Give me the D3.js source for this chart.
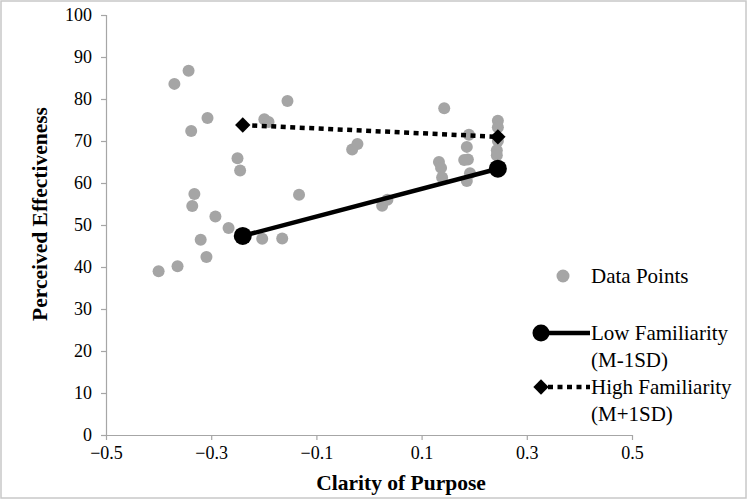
<!DOCTYPE html>
<html>
<head>
<meta charset="utf-8">
<script src="https://cdn.jsdelivr.net/npm/d3@7/dist/d3.min.js"></script>
<style>
  html, body { margin: 0; padding: 0; background: #fff; }
  svg { display: block; }
</style>
</head>
<body>
<svg id="chart" width="750" height="502"></svg>
<script>
// ---- Data ----
const pointX = [-0.343, -0.370, -0.307, -0.338, -0.155, -0.199, -0.191, -0.250, -0.245,
  -0.332, -0.336, -0.292, -0.267, -0.320, -0.309, -0.364, -0.400, -0.203, -0.165, -0.133,
  -0.032, -0.022, 0.025, 0.035, 0.143, 0.133, 0.137, 0.139,
  0.190, 0.186, 0.188, 0.192, 0.186, 0.181,
  0.245, 0.245, 0.245, 0.243, 0.243, 0.245];
const pointY = [86.7, 83.6, 75.5, 72.4, 79.5, 75.2, 74.5, 65.9, 63.0,
  57.4, 54.5, 52.0, 49.3, 46.5, 42.4, 40.2, 39.0, 46.7, 46.8, 57.2,
  68.0, 69.3, 54.6, 56.0, 77.8, 65.0, 63.6, 61.3,
  71.5, 68.6, 65.6, 62.3, 60.5, 65.5,
  74.8, 73.3, 70.0, 67.8, 66.6, 64.0];
const lowX = [-0.24, 0.245];
const lowY = [47.4, 63.4];
const highX = [-0.24, 0.245];
const highY = [73.8, 71.0];
const xTicks = [-0.5, -0.3, -0.1, 0.1, 0.3, 0.5];
const yTicks = [0, 10, 20, 30, 40, 50, 60, 70, 80, 90, 100];
const legendLabels = [["Data Points"], ["Low Familiarity", "(M-1SD)"], ["High Familiarity", "(M+1SD)"]];

// ---- Layout ----
const FONT = "'Liberation Serif', 'Times New Roman', Times, serif";
const svg = d3.select("#chart");
const pL = 106, pR = 632, pT = 15, pB = 435;
const x = d3.scaleLinear().domain([-0.5, 0.5]).range([pL, pR]);
const y = d3.scaleLinear().domain([0, 100]).range([pB, pT]);
const axisColor = "#a6a6a6";
const dotColor = "#a5a5a5";

// outer border
svg.append("rect").attr("x", 1).attr("y", 1).attr("width", 745).attr("height", 497)
  .attr("fill", "#fff").attr("stroke", "#c8c8c8").attr("stroke-width", 1.5);

// axes
const xAxis = svg.append("g").attr("transform", `translate(0,${pB})`)
  .call(d3.axisBottom(x).tickValues(xTicks).tickSize(5).tickPadding(4).tickFormat(d3.format(".1f")));
const yAxis = svg.append("g").attr("transform", `translate(${pL},0)`)
  .call(d3.axisLeft(y).tickValues(yTicks).tickSize(5).tickPadding(9));
[xAxis, yAxis].forEach(g => {
  g.attr("font-family", FONT).attr("font-size", 18);
  g.selectAll("path, line").attr("stroke", axisColor).attr("stroke-width", 1.2);
  g.selectAll("text").attr("fill", "#000");
});
xAxis.selectAll("text").attr("dy", "0.85em");
xAxis.select(".domain").attr("d", `M${pL},0.5H${pR}`);
yAxis.select(".domain").attr("d", `M0.5,${pT}V${pB}`);
yAxis.selectAll(".tick text").attr("dy", "0.33em");

// axis titles
svg.append("text").attr("x", 401).attr("y", 490).attr("text-anchor", "middle")
  .attr("font-family", FONT).attr("font-size", 21.5).attr("font-weight", "bold").text("Clarity of Purpose");
svg.append("text").attr("transform", `translate(47,214) rotate(-90)`)
  .attr("text-anchor", "middle")
  .attr("font-family", FONT).attr("font-size", 21.5).attr("font-weight", "bold").text("Perceived Effectiveness");

// data points
svg.append("g").selectAll("circle").data(pointX.map((v, i) => [v, pointY[i]])).join("circle")
  .attr("cx", d => x(d[0])).attr("cy", d => y(d[1])).attr("r", 6).attr("fill", dotColor);

// lines
const line = d3.line().x(d => x(d[0])).y(d => y(d[1]));
const lowData = lowX.map((v, i) => [v, lowY[i]]);
const highData = highX.map((v, i) => [v, highY[i]]);
svg.append("path").datum(lowData).attr("d", line).attr("stroke", "#000").attr("stroke-width", 4.5).attr("fill", "none");
svg.append("path").datum(highData).attr("d", line).attr("stroke", "#000").attr("stroke-width", 4.5)
  .attr("stroke-dasharray", "5,4.5").attr("fill", "none");
svg.append("g").selectAll("circle").data(lowData).join("circle")
  .attr("cx", d => x(d[0])).attr("cy", d => y(d[1])).attr("r", 9).attr("fill", "#000");
const diamond = d3.symbol().type(d3.symbolDiamond2).size(150);
svg.append("g").selectAll("path").data(highData).join("path")
  .attr("transform", d => `translate(${x(d[0])},${y(d[1])})`).attr("d", diamond).attr("fill", "#000");

// legend
const lg = svg.append("g");
const lgTextX = 591;
const rows = [276, 333, 387];
lg.append("circle").attr("cx", 563).attr("cy", rows[0]).attr("r", 6.5).attr("fill", dotColor);
lg.append("line").attr("x1", 541).attr("x2", 590).attr("y1", rows[1]).attr("y2", rows[1])
  .attr("stroke", "#000").attr("stroke-width", 4.5);
lg.append("circle").attr("cx", 541).attr("cy", rows[1]).attr("r", 8.5).attr("fill", "#000");
lg.append("line").attr("x1", 548).attr("x2", 590).attr("y1", rows[2]).attr("y2", rows[2])
  .attr("stroke", "#000").attr("stroke-width", 4.5).attr("stroke-dasharray", "5,4.5");
lg.append("path").attr("transform", `translate(541,${rows[2]})`).attr("d", diamond).attr("fill", "#000");
legendLabels.forEach((lines, i) => {
  lines.forEach((t, j) => {
    lg.append("text").attr("x", lgTextX).attr("y", rows[i] + j * 27).attr("dy", "0.33em")
      .attr("font-family", FONT).attr("font-size", 21).attr("fill", "#000").text(t);
  });
});
</script>
</body>
</html>
